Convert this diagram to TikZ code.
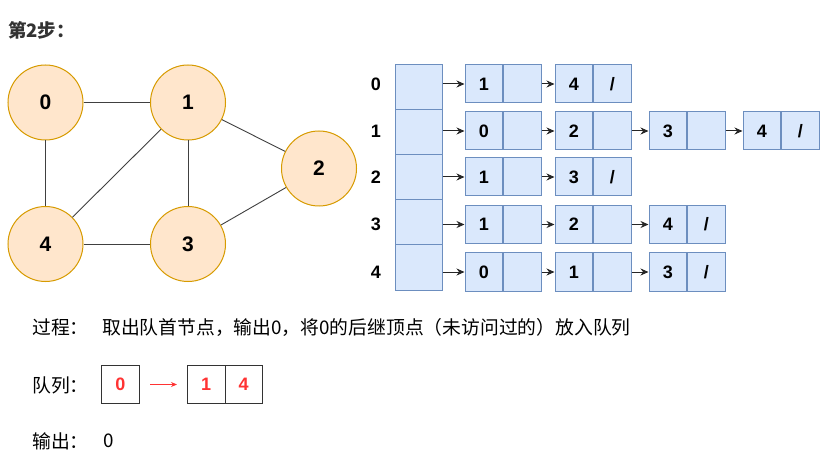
\documentclass[tikz,border=0pt]{standalone}
\usepackage{fontspec}
\setmainfont{Liberation Sans}
\newfontfamily\cjk{Noto Sans CJK SC}
\usetikzlibrary{arrows.meta}
\definecolor{cfill}{HTML}{FFE6CC}
\definecolor{cdraw}{HTML}{D79B00}
\definecolor{bfill}{HTML}{DAE8FC}
\definecolor{bdraw}{HTML}{6C8EBF}
\definecolor{qred}{HTML}{FF3333}
\definecolor{edgegray}{HTML}{404040}
\definecolor{titlec}{HTML}{333333}
\begin{document}
\begin{tikzpicture}[x=1pt,y=-1pt,
  vtx/.style={circle,draw=cdraw,fill=cfill,line width=1pt,minimum size=75pt,inner sep=0pt,font=\fontsize{21}{24}\selectfont\bfseries},
  gedge/.style={draw=edgegray,line width=0.9pt},
  cell/.style={draw=bdraw,fill=bfill,line width=1pt,minimum width=37.5pt,minimum height=38pt,inner sep=0pt,font=\fontsize{18}{20}\selectfont\bfseries},
  acell/.style={draw=bdraw,fill=bfill,line width=1pt,minimum width=47pt,minimum height=45pt,inner sep=0pt},
  lab/.style={inner sep=0pt,font=\fontsize{18}{20}\selectfont\bfseries},
  arr/.style={draw=black!85,line width=1pt,-{Stealth[length=8pt,width=7pt]}},
  qcell/.style={draw=black!80,fill=white,line width=1pt,minimum width=37.5pt,minimum height=37.5pt,inner sep=0pt,text=qred,font=\fontsize{18}{20}\selectfont\bfseries},
  qarr/.style={draw=qred,line width=0.9pt,-{Stealth[length=6pt,width=5pt]}},
  txt/.style={inner sep=0pt,anchor=west,font=\cjk\fontsize{18.8}{22}\selectfont}
]
\useasboundingbox[fill=white] (0,0) rectangle (830,473);

% title
\node[anchor=west,inner sep=0pt,text=titlec,font=\cjk\bfseries\fontsize{18.5}{22}\selectfont] (title) at (8,30) {第2步：};

% graph
\node[vtx] (v0) at (45.5,102.5) {0};
\node[vtx] (v1) at (188,102.5) {1};
\node[vtx] (v2) at (319,168.5) {2};
\node[vtx] (v3) at (188,244) {3};
\node[vtx] (v4) at (45.5,244) {4};
\draw[gedge] (v0) -- (v1);
\draw[gedge] (v0) -- (v4);
\draw[gedge] (v1) -- (v2);
\draw[gedge] (v1) -- (v3);
\draw[gedge] (v1) -- (v4);
\draw[gedge] (v4) -- (v3);
\draw[gedge] (v3) -- (v2);

% row labels
\node[lab] (l0) at (376,84) {0};
\node[lab] (l1) at (376,131) {1};
\node[lab] (l2) at (376,177) {2};
\node[lab] (l3) at (376,224.5) {3};
\node[lab] (l4) at (376,272) {4};

% array
\node[acell] (a0) at (418.5,87.5) {};
\node[acell] (a1) at (418.5,132.5) {};
\node[acell] (a2) at (418.5,177.5) {};
\node[acell] (a3) at (418.5,222.5) {};
\node[acell] (a4) at (418.5,267.5) {};

% row 0
\node[cell] (d01) at (483.75,84) {1};
\node[cell,anchor=west] (p01) at (d01.east) {};
\node[cell] (d02) at (573.75,84) {4};
\node[cell,anchor=west] (p02) at (d02.east) {/};
% row 1
\node[cell] (d11) at (483.75,131) {0};
\node[cell,anchor=west] (p11) at (d11.east) {};
\node[cell] (d12) at (573.75,131) {2};
\node[cell,anchor=west] (p12) at (d12.east) {};
\node[cell] (d13) at (667.75,131) {3};
\node[cell,anchor=west] (p13) at (d13.east) {};
\node[cell] (d14) at (761.75,131) {4};
\node[cell,anchor=west] (p14) at (d14.east) {/};
% row 2
\node[cell] (d21) at (483.75,177) {1};
\node[cell,anchor=west] (p21) at (d21.east) {};
\node[cell] (d22) at (573.75,177) {3};
\node[cell,anchor=west] (p22) at (d22.east) {/};
% row 3
\node[cell] (d31) at (483.75,224.5) {1};
\node[cell,anchor=west] (p31) at (d31.east) {};
\node[cell] (d32) at (573.75,224.5) {2};
\node[cell,anchor=west] (p32) at (d32.east) {};
\node[cell] (d33) at (667.75,224.5) {4};
\node[cell,anchor=west] (p33) at (d33.east) {/};
% row 4
\node[cell] (d41) at (483.75,272) {0};
\node[cell,anchor=west] (p41) at (d41.east) {};
\node[cell] (d42) at (573.75,272) {1};
\node[cell,anchor=west] (p42) at (d42.east) {};
\node[cell] (d43) at (667.75,272) {3};
\node[cell,anchor=west] (p43) at (d43.east) {/};

% arrows
\draw[arr] (a0.east |- d01.west) -- (d01.west);
\draw[arr] (a1.east |- d11.west) -- (d11.west);
\draw[arr] (a2.east |- d21.west) -- (d21.west);
\draw[arr] (a3.east |- d31.west) -- (d31.west);
\draw[arr] (a4.east |- d41.west) -- (d41.west);
\draw[arr] (p01.east) -- (d02.west);
\draw[arr] (p11.east) -- (d12.west);
\draw[arr] (p12.east) -- (d13.west);
\draw[arr] (p13.east) -- (d14.west);
\draw[arr] (p21.east) -- (d22.west);
\draw[arr] (p31.east) -- (d32.west);
\draw[arr] (p32.east) -- (d33.west);
\draw[arr] (p41.east) -- (d42.west);
\draw[arr] (p42.east) -- (d43.west);

% bottom texts
\node[txt] (t1) at (32,327) {过程：};
\node[txt] (t2) at (102,327) {取出队首节点，输出0，将0的后继顶点（未访问过的）放入队列};
\node[txt] (t3) at (32,385) {队列：};
\node[txt] (t4) at (32,441) {输出：};
\node[txt] (t5) at (103,441) {0};

% queue
\node[qcell] (q0) at (120.5,384.5) {0};
\node[qcell] (q1) at (206.25,384.5) {1};
\node[qcell] (q2) at (243.75,384.5) {4};
\draw[qarr,shorten <=10.5pt,shorten >=10pt] (q0) -- (q1);
\end{tikzpicture}
\end{document}
